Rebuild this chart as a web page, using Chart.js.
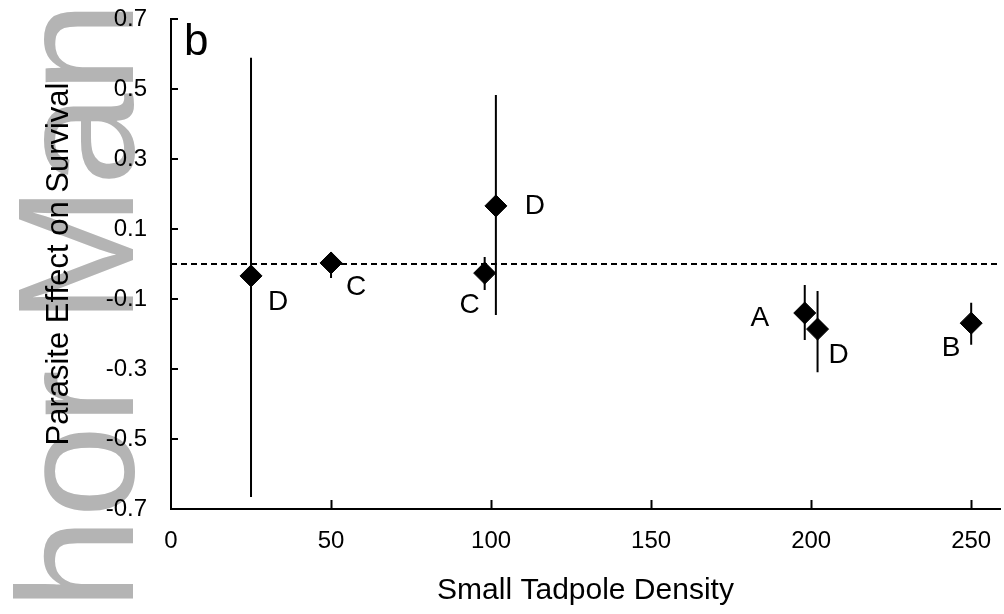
<!DOCTYPE html>
<html>
<head>
<meta charset="utf-8">
<script src="https://cdn.jsdelivr.net/npm/chart.js@4/dist/chart.umd.min.js"></script>
<style>
body { margin: 0; background: #fff; }
canvas { display: block; }
</style>
</head>
<body>
<canvas id="myChart" width="1004" height="614"></canvas>
<script>
// values
var density = [25, 50, 98, 101.5, 198, 202, 250];
var effect = [-0.034, 0.003, -0.026, 0.166, -0.14, -0.186, -0.169];
var errLow = [-0.666, -0.04, -0.074, -0.146, -0.217, -0.309, -0.231];
var errHigh = [0.589, 0.034, 0.02, 0.483, -0.06, -0.077, -0.111];
var groups = ['D', 'C', 'C', 'D', 'A', 'D', 'B'];
var xTicks = [0, 50, 100, 150, 200, 250];
var yTicks = [-0.7, -0.5, -0.3, -0.1, 0.1, 0.3, 0.5, 0.7];
var refLine = 0;

// where each letter sits relative to its point (px)
var labelOffsets = [[27, 26], [25, 24], [-15, 32], [39, 0], [-45, 5], [21, 26], [-20, 25]];

var FONT = "'Liberation Sans', Arial, sans-serif";
Chart.defaults.font.family = FONT;
Chart.defaults.color = '#000';

var points = [];
var bars = [];
for (var i = 0; i < density.length; i++) {
    points.push({x: density[i], y: effect[i]});
    bars.push({x: density[i], y: errLow[i]});
    bars.push({x: density[i], y: errHigh[i]});
    bars.push({x: density[i], y: null});
}

var decorations = {
    id: 'decorations',
    afterLayout: function(chart) {
        // x axis runs almost to the right edge, like the original figure
        var xs = chart.scales.x;
        var right = chart.width - 4;
        chart.chartArea.right = right;
        chart.chartArea.width = right - chart.chartArea.left;
        xs.right = right;
        xs.width = right - xs.left;
        xs.configure();
    },
    beforeDraw: function(chart) {
        var ctx = chart.ctx;
        ctx.save();
        ctx.fillStyle = '#fff';
        ctx.fillRect(0, 0, chart.width, chart.height);
        // watermark
        ctx.translate(133, 610);
        ctx.rotate(-Math.PI / 2);
        ctx.font = '166px ' + FONT;
        ctx.fillStyle = '#b4b4b4';
        ctx.textBaseline = 'alphabetic';
        ctx.textAlign = 'left';
        ctx.fillText('hor Man', 0, 0);
        ctx.restore();
    },
    afterDraw: function(chart) {
        var ctx = chart.ctx;
        var xs = chart.scales.x, ys = chart.scales.y;
        var area = chart.chartArea;
        ctx.save();
        ctx.strokeStyle = '#000';
        ctx.lineWidth = 2;
        ctx.beginPath();
        xs.ticks.forEach(function(t) {
            var px = Math.round(xs.getPixelForValue(t.value)) + 0.5;
            if (t.value === 0) return;
            ctx.moveTo(px, area.bottom);
            ctx.lineTo(px, area.bottom - 9);
        });
        ys.ticks.forEach(function(t) {
            var py = Math.round(ys.getPixelForValue(t.value));
            ctx.moveTo(area.left, py);
            ctx.lineTo(area.left + 7, py);
        });
        ctx.stroke();

        // group letters
        var meta = chart.getDatasetMeta(0);
        ctx.font = '28px ' + FONT;
        ctx.fillStyle = '#000';
        ctx.textAlign = 'center';
        ctx.textBaseline = 'middle';
        meta.data.forEach(function(pt, i) {
            ctx.fillText(groups[i], pt.x + labelOffsets[i][0], pt.y + labelOffsets[i][1]);
        });

        // panel letter
        ctx.font = '44px ' + FONT;
        ctx.textAlign = 'left';
        ctx.textBaseline = 'alphabetic';
        ctx.fillText('b', 184, 55);
        ctx.restore();
    }
};

var ctx = document.getElementById('myChart');
var myChart = new Chart(ctx, {
    type: 'scatter',
    data: {
        datasets: [{
            data: points,
            pointStyle: 'rectRot',
            pointRadius: 11,
            pointHoverRadius: 11,
            backgroundColor: '#000',
            borderColor: '#000',
            borderWidth: 1,
            order: 0
        }, {
            type: 'line',
            data: bars,
            borderColor: '#000',
            borderWidth: 2,
            pointRadius: 0,
            spanGaps: false,
            fill: false,
            order: 1
        }, {
            type: 'line',
            data: [{x: 0, y: refLine}, {x: 259, y: refLine}],
            borderColor: '#000',
            borderWidth: 2,
            borderDash: [6, 4],
            pointRadius: 0,
            fill: false,
            order: 2
        }]
    },
    options: {
        responsive: false,
        devicePixelRatio: 1,
        animation: false,
        layout: { padding: 0 },
        plugins: {
            legend: { display: false },
            tooltip: { enabled: false }
        },
        scales: {
            x: {
                type: 'linear',
                min: 0,
                max: 259,
                grid: { display: false, drawTicks: false },
                border: { display: true, color: '#000', width: 2 },
                afterBuildTicks: function(scale) {
                    scale.ticks = xTicks.map(function(v) { return {value: v}; });
                },
                afterFit: function(scale) {
                    scale.height = 105;
                },
                ticks: {
                    padding: 0,
                    maxRotation: 0,
                    font: { size: 24, lineHeight: '64px' },
                    callback: function(v) { return v; }
                },
                title: {
                    display: true,
                    text: 'Small Tadpole Density',
                    font: { size: 30 },
                    padding: { top: 0, bottom: 5 }
                }
            },
            y: {
                type: 'linear',
                min: -0.7,
                max: 0.7,
                grid: { display: false, drawTicks: false },
                border: { display: true, color: '#000', width: 2 },
                afterBuildTicks: function(scale) {
                    scale.ticks = yTicks.map(function(v) { return {value: v}; });
                },
                afterFit: function(scale) {
                    scale.width = 171;
                    scale.paddingTop = 19;
                    scale.paddingBottom = 0;
                },
                ticks: {
                    padding: 24,
                    font: { size: 24 },
                    callback: function(v) { return v.toFixed(1); }
                },
                title: {
                    display: true,
                    text: 'Parasite Effect on Survival',
                    font: { size: 31 },
                    padding: { top: 41, bottom: 0 }
                }
            }
        }
    },
    plugins: [decorations]
});
</script>
</body>
</html>
